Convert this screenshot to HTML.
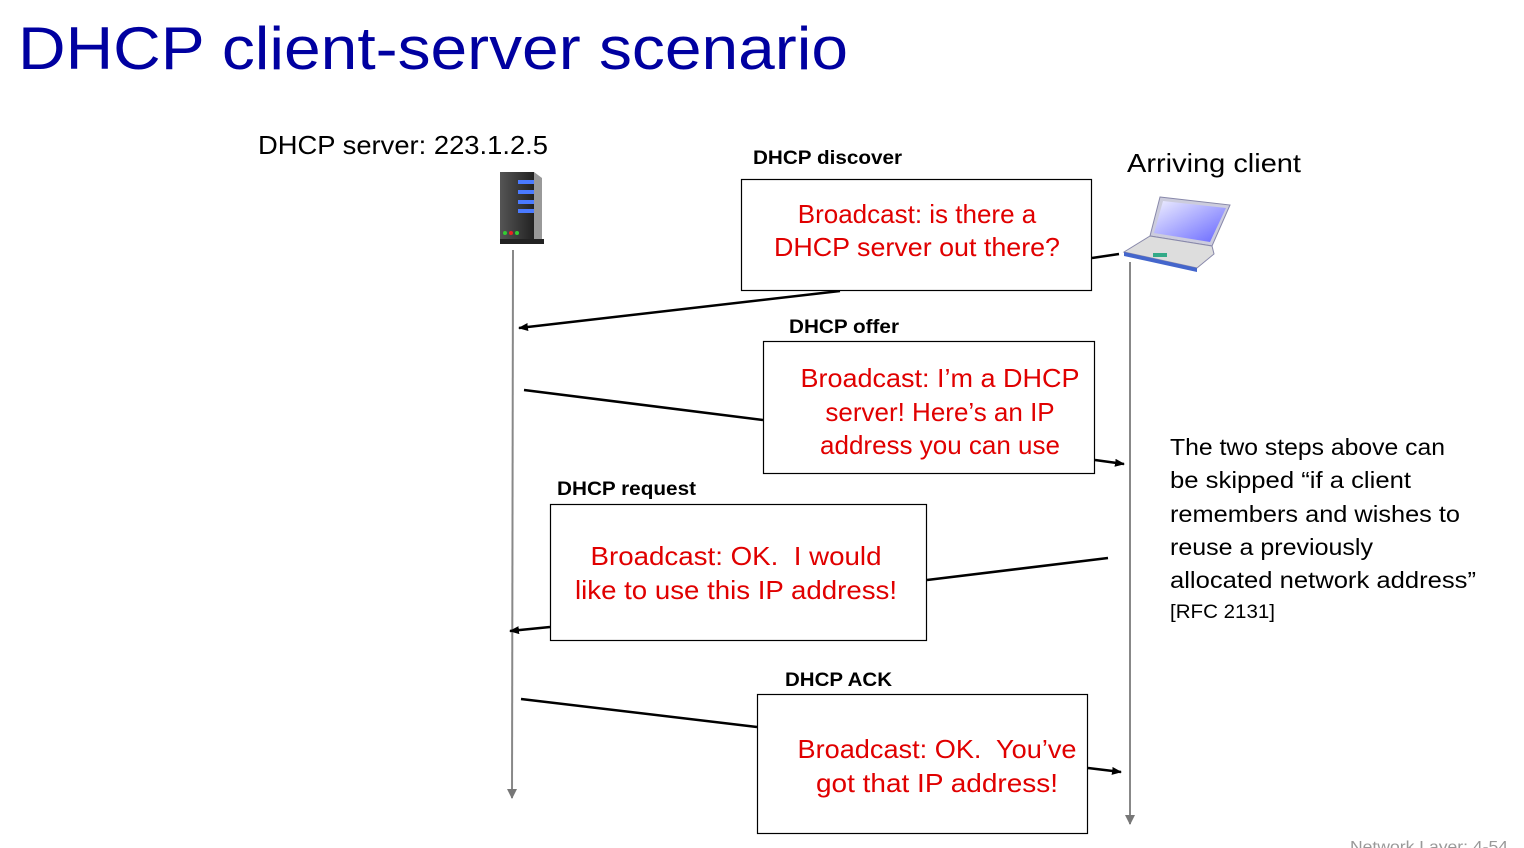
<!DOCTYPE html>
<html><head><meta charset="utf-8"><style>
html,body{margin:0;padding:0;background:#fff;width:1524px;height:848px;overflow:hidden}
svg{display:block}
text{font-family:"Liberation Sans",sans-serif;white-space:pre}
</style></head><body>
<svg width="1524" height="848" viewBox="0 0 1524 848" xmlns="http://www.w3.org/2000/svg">
<defs>
<marker id="ah" markerWidth="10" markerHeight="8" refX="9" refY="4" orient="auto" markerUnits="userSpaceOnUse">
<path d="M0,0 L10,4 L0,8 Z" fill="#000"/></marker>
<marker id="ag" markerWidth="10" markerHeight="10" refX="9" refY="5" orient="auto" markerUnits="userSpaceOnUse">
<path d="M0,0 L10,5 L0,10 Z" fill="#777"/></marker>
<linearGradient id="sv" x1="0" x2="1"><stop offset="0" stop-color="#555"/><stop offset="1" stop-color="#222"/></linearGradient>
<linearGradient id="scr" x1="0" y1="0" x2="1" y2="1"><stop offset="0" stop-color="#eef" /><stop offset="1" stop-color="#66f"/></linearGradient>
</defs>
<text x="18" y="69" font-size="60" fill="#0000a0" textLength="830" lengthAdjust="spacingAndGlyphs">DHCP client-server scenario</text>

<text x="258" y="154" font-size="26" fill="#000" textLength="290" lengthAdjust="spacingAndGlyphs">DHCP server: 223.1.2.5</text>
<text x="1127" y="172" font-size="26" fill="#000" textLength="174" lengthAdjust="spacingAndGlyphs">Arriving client</text>

<!-- server icon -->
<rect x="500" y="172" width="34" height="70" fill="url(#sv)"/>
<polygon points="534,172 542,178 542,242 534,244" fill="#999"/>
<rect x="500" y="239" width="44" height="5" fill="#222"/>
<g fill="#4a7aff"><rect x="518" y="180" width="16" height="4"/><rect x="518" y="190" width="16" height="4"/><rect x="518" y="200" width="16" height="4"/><rect x="518" y="209" width="16" height="4"/></g>
<circle cx="505" cy="233" r="2" fill="#3c3"/><circle cx="511" cy="233" r="2" fill="#e22"/><circle cx="517" cy="233" r="2" fill="#3c3"/>

<!-- laptop icon -->
<polygon points="1160,197 1230,205 1212,246 1150,236" fill="#ccd" stroke="#88a"/>
<polygon points="1163,201 1226,208 1210,242 1154,233" fill="url(#scr)"/>
<polygon points="1150,236 1212,246 1214,254 1197,268 1124,252" fill="#ddd" stroke="#88a"/>
<polygon points="1124,252 1197,268 1197,272 1124,256" fill="#46c"/>
<rect x="1153" y="253" width="14" height="4" fill="#3a8"/>

<!-- lifelines -->
<line x1="513" y1="250" x2="512" y2="798" stroke="#888" stroke-width="2" marker-end="url(#ag)"/>
<line x1="1130" y1="262" x2="1130" y2="824" stroke="#888" stroke-width="2" marker-end="url(#ag)"/>

<g stroke="#000" stroke-width="2.5" fill="none">
<line x1="1092" y1="258" x2="1119" y2="254"/>
<line x1="840" y1="291" x2="519" y2="328" marker-end="url(#ah)"/>
<line x1="524" y1="390" x2="763" y2="420"/>
<line x1="1095" y1="460" x2="1124" y2="464" marker-end="url(#ah)"/>
<line x1="1108" y1="558" x2="927" y2="580"/>
<line x1="550" y1="627" x2="510" y2="631" marker-end="url(#ah)"/>
<line x1="521" y1="699" x2="757" y2="727"/>
<line x1="1088" y1="768" x2="1121" y2="772" marker-end="url(#ah)"/>
</g>

<g fill="#fff" stroke="#000" stroke-width="1.2">
<rect x="741.5" y="179.5" width="350" height="111"/>
<rect x="763.5" y="341.5" width="331" height="132"/>
<rect x="550.5" y="504.5" width="376" height="136"/>
<rect x="757.5" y="694.5" width="330" height="139"/>
</g>

<g font-size="19" font-weight="bold" fill="#000">
<text x="753" y="164" textLength="149" lengthAdjust="spacingAndGlyphs">DHCP discover</text>
<text x="789" y="333" textLength="110" lengthAdjust="spacingAndGlyphs">DHCP offer</text>
<text x="557" y="495" textLength="139" lengthAdjust="spacingAndGlyphs">DHCP request</text>
<text x="785" y="686" textLength="107" lengthAdjust="spacingAndGlyphs">DHCP ACK</text>
</g>

<g font-size="26" fill="#e00000" text-anchor="middle">
<text x="917" y="223">Broadcast: is there a</text>
<text x="917" y="256" textLength="286" lengthAdjust="spacingAndGlyphs">DHCP server out there?</text>
<text x="940" y="387" textLength="279" lengthAdjust="spacingAndGlyphs">Broadcast: I’m a DHCP</text>
<text x="940" y="421">server! Here’s an IP</text>
<text x="940" y="454">address you can use</text>
<text x="736" y="565" textLength="291" lengthAdjust="spacingAndGlyphs">Broadcast: OK.  I would</text>
<text x="736" y="599" textLength="322" lengthAdjust="spacingAndGlyphs">like to use this IP address!</text>
<text x="937" y="758" textLength="279" lengthAdjust="spacingAndGlyphs">Broadcast: OK.  You’ve</text>
<text x="937" y="792" textLength="242" lengthAdjust="spacingAndGlyphs">got that IP address!</text>
</g>

<g font-size="23" fill="#000">
<text x="1170" y="455" textLength="275" lengthAdjust="spacingAndGlyphs">The two steps above can</text>
<text x="1170" y="488" textLength="241" lengthAdjust="spacingAndGlyphs">be skipped “if a client</text>
<text x="1170" y="522" textLength="290" lengthAdjust="spacingAndGlyphs">remembers and wishes to</text>
<text x="1170" y="555" textLength="203" lengthAdjust="spacingAndGlyphs">reuse a previously</text>
<text x="1170" y="588" textLength="306" lengthAdjust="spacingAndGlyphs">allocated network address”</text>
<text x="1170" y="618" font-size="19" textLength="105" lengthAdjust="spacingAndGlyphs">[RFC 2131]</text>
</g>
<text x="1350" y="852" font-size="16" fill="#999" textLength="158" lengthAdjust="spacingAndGlyphs">Network Layer: 4-54</text>
</svg>
</body></html>
